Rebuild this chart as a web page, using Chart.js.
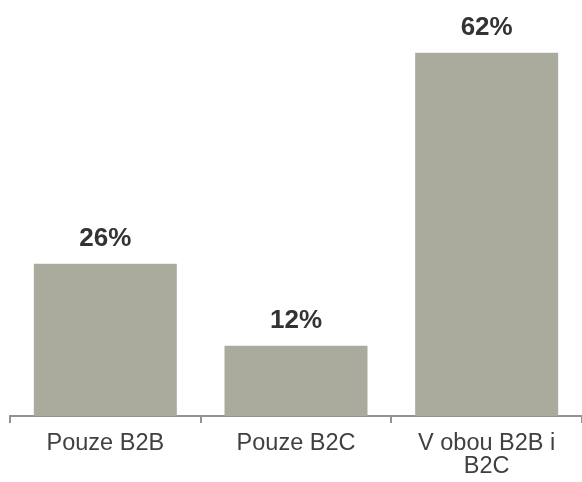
<!DOCTYPE html>
<html><head><meta charset="utf-8">
<script src="https://cdn.jsdelivr.net/npm/chart.js@4"></script>
<style>html,body{margin:0;padding:0;background:#fff}#w{width:582px;height:482px}</style>
</head><body><div id="w"><canvas id="c"></canvas></div>
<script>
const categories = ['Pouze B2B', 'Pouze B2C', ['V obou B2B i', 'B2C']];
const values = [26, 12, 62];
const valueLabels = ['26%', '12%', '62%'];

const labelPlugin = {
  id: 'valLabels',
  afterDatasetsDraw(chart) {
    const ctx = chart.ctx;
    const meta = chart.getDatasetMeta(0);
    ctx.save();
    ctx.font = 'bold 26px "Liberation Sans", Arial, sans-serif';
    ctx.fillStyle = '#333333';
    ctx.textAlign = 'center';
    ctx.textBaseline = 'alphabetic';
    meta.data.forEach((bar, i) => {
      ctx.fillText(valueLabels[i], bar.x, bar.y - 18);
    });
    ctx.restore();
  }
};

new Chart(document.getElementById('c'), {
  type: 'bar',
  data: {
    labels: categories,
    datasets: [{
      data: values,
      backgroundColor: '#ABAB9D',
      barPercentage: 0.75,
      categoryPercentage: 1.0
    }]
  },
  options: {
    responsive: true,
    maintainAspectRatio: false,
    animation: false,
    layout: { padding: { top: 6, left: 10, right: 0, bottom: -5 } },
    plugins: { legend: { display: false }, tooltip: { enabled: false } },
    scales: {
      y: { display: false, min: 0, max: 70 },
      x: {
        border: { display: true, color: '#939393', width: 2 },
        grid: { drawOnChartArea: false, drawTicks: true, tickLength: 7, color: '#939393', lineWidth: 2, offset: true },
        ticks: {
          color: '#404040',
          padding: 8,
          maxRotation: 0,
          font: { family: '"Liberation Sans", Arial, sans-serif', size: 23.5, lineHeight: 1.02 }
        }
      }
    }
  },
  plugins: [labelPlugin]
});
</script>
</body></html>
